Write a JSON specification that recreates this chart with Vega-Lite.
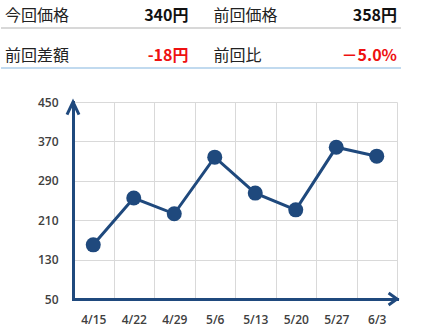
{
  "$schema": "https://vega.github.io/schema/vega-lite/v6.json",
  "padding": {"left": 0, "top": 0, "right": 0, "bottom": 4},
  "background": "white",
  "spacing": 27,
  "config": {"view": {"stroke": null}, "font": "Noto Sans CJK JP"},
  "vconcat": [
    {
      "width": 328,
      "height": 68,
      "data": {"values": [
        {"row": 1, "col": "A", "label": "今回価格", "value": "340円"},
        {"row": 1, "col": "B", "label": "前回価格", "value": "358円"},
        {"row": 2, "col": "A", "label": "前回差額", "value": "-18円"},
        {"row": 2, "col": "B", "label": "前回比", "value": "－5.0%"}
      ]},
      "resolve": {"scale": {"x": "independent"}},
      "layer": [
        {
          "mark": {"type": "rule", "strokeWidth": 1.5},
          "encoding": {
            "x": {"datum": 0, "type": "quantitative", "scale": {"domain": [0, 1], "range": [-72, 328], "nice": false, "zero": false}, "axis": null},
            "x2": {"datum": 1},
            "y": {"field": "row", "type": "ordinal", "bandPosition": 1, "scale": {"type": "band", "range": [-12, 68], "paddingInner": 0, "paddingOuter": 0}, "axis": null},
            "color": {"condition": {"test": "datum.row == 1", "value": "#d6d6d6"}, "value": "#bdd7ee"}
          }
        },
        {
          "mark": {"type": "text", "align": "left", "baseline": "middle", "fontSize": 16, "color": "#222222"},
          "encoding": {
            "x": {"field": "col", "type": "nominal", "bandPosition": 0, "scale": {"type": "band", "range": [-72, 328], "paddingInner": 0.12, "paddingOuter": 0.019}, "axis": null},
            "y": {"field": "row", "type": "ordinal", "bandPosition": 0.7, "scale": {"type": "band", "range": [-12, 68], "paddingInner": 0, "paddingOuter": 0}, "axis": null},
            "text": {"field": "label"}
          }
        },
        {
          "mark": {"type": "text", "align": "right", "baseline": "middle", "fontSize": 16, "fontWeight": "bold"},
          "encoding": {
            "x": {"field": "col", "type": "nominal", "bandPosition": 1, "scale": {"type": "band", "range": [-72, 328], "paddingInner": 0.12, "paddingOuter": 0.019}, "axis": null},
            "y": {"field": "row", "type": "ordinal", "bandPosition": 0.7, "scale": {"type": "band", "range": [-12, 68], "paddingInner": 0, "paddingOuter": 0}, "axis": null},
            "text": {"field": "value"},
            "color": {"condition": {"test": "datum.row == 2", "value": "#ee1111"}, "value": "#111111"}
          }
        }
      ]
    },
    {
      "width": 324,
      "height": 197,
      "data": {"values": [
        {"date": "4/15", "price": 160},
        {"date": "4/22", "price": 255},
        {"date": "4/29", "price": 223},
        {"date": "5/6", "price": 338},
        {"date": "5/13", "price": 265},
        {"date": "5/20", "price": 231},
        {"date": "5/27", "price": 358},
        {"date": "6/3", "price": 340}
      ]},
      "encoding": {
        "x": {
          "field": "date", "type": "nominal", "sort": null,
          "scale": {"type": "band", "domain": ["4/15", "4/22", "4/29", "5/6", "5/13", "5/20", "5/27", "6/3"], "paddingInner": 0, "paddingOuter": 0},
          "axis": {"title": null, "tickBand": "extent", "grid": true, "gridColor": "#d9d9d9", "gridWidth": 1, "ticks": false, "domainColor": "#1f497d", "domainWidth": 3, "domainCap": "square", "labelAngle": 0, "labelPadding": 15, "labelFontSize": 12, "labelColor": "#404040", "labelFont": "Open Sans", "labelFontWeight": 600}
        },
        "y": {
          "field": "price", "type": "quantitative",
          "scale": {"domain": [50, 450], "nice": false, "zero": false},
          "axis": {"title": null, "values": [50, 130, 210, 290, 370, 450], "grid": true, "gridColor": "#d9d9d9", "gridWidth": 1, "ticks": false, "domainColor": "#1f497d", "domainWidth": 3, "domainCap": "square", "labelPadding": 15, "minExtent": 72, "maxExtent": 72, "labelFontSize": 12, "labelColor": "#404040", "labelFont": "Open Sans", "labelFontWeight": 600}
        }
      },
      "layer": [
        {"mark": {"type": "line", "color": "#1f497d", "strokeWidth": 3}},
        {"mark": {"type": "point", "filled": true, "size": 225, "color": "#1f497d", "opacity": 1}},
        {
          "transform": [{"filter": "datum.date == '4/15'"}],
          "mark": {"type": "point", "shape": "M -1 2.1 L 0 0 L 1 2.1", "filled": false, "size": 144, "strokeWidth": 3, "stroke": "#1f497d", "fill": null, "opacity": 1, "strokeJoin": "miter"},
          "encoding": {
            "x": {"field": "date", "type": "nominal", "bandPosition": 0},
            "y": {"datum": 450, "type": "quantitative"}
          }
        },
        {
          "transform": [{"filter": "datum.date == '6/3'"}],
          "mark": {"type": "point", "shape": "M -1.4 -1 L 0 0 L -1.4 1", "filled": false, "size": 144, "strokeWidth": 3, "stroke": "#1f497d", "fill": null, "opacity": 1, "strokeJoin": "miter"},
          "encoding": {
            "x": {"field": "date", "type": "nominal", "bandPosition": 1},
            "y": {"datum": 50, "type": "quantitative"}
          }
        }
      ]
    }
  ]
}
